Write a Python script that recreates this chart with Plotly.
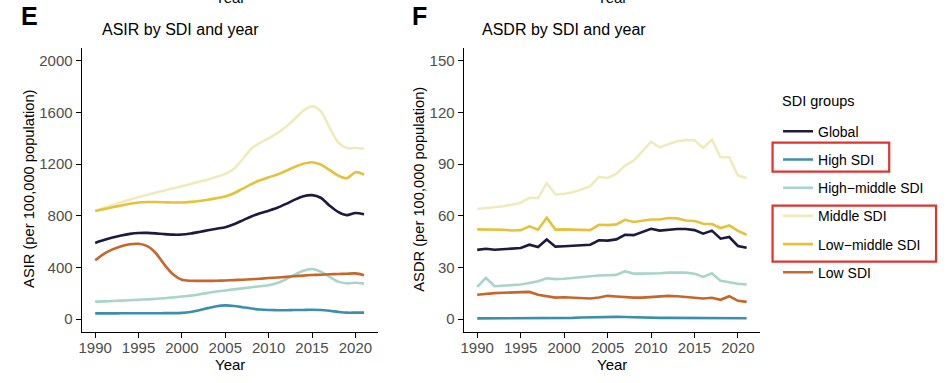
import plotly.graph_objects as go

W, H = 952, 383
FONT = "Liberation Sans, Arial, sans-serif"

years = list(range(1990, 2022))
groups = ["Global", "High SDI", "High\u2212middle SDI", "Middle SDI", "Low\u2212middle SDI", "Low SDI"]
colors = ["#1c1a40", "#3b8fad", "#a7d5c8", "#f0ebbd", "#e6c23c", "#c8652b"]

asir_global = [590, 612, 632, 648, 660, 667, 668, 664, 658, 654,
               655, 663, 675, 688, 700, 712, 735, 765, 795, 820,
               840, 862, 892, 925, 952, 960, 940, 880, 830, 805, 822, 812]
asir_high = [44, 44, 44, 45, 45, 45, 45, 45, 46, 46,
             48, 55, 68, 85, 100, 106, 102, 92, 82, 74,
             70, 69, 69, 70, 71, 72, 70, 64, 56, 50, 50, 50]
asir_highmid = [135, 137, 140, 143, 146, 150, 153, 157, 162, 168,
                175, 182, 192, 203, 214, 222, 230, 238, 246, 254,
                262, 280, 308, 345, 375, 388, 368, 328, 290, 278, 282, 275]
asir_mid = [840, 862, 883, 905, 925, 945, 962, 980, 997, 1013,
            1030, 1046, 1064, 1082, 1102, 1125, 1165, 1240, 1320, 1365,
            1400, 1440, 1490, 1550, 1615, 1648, 1612, 1485, 1370, 1326, 1325, 1320]
asir_lowmid = [838, 852, 866, 880, 893, 903, 907, 907, 905, 903,
               903, 908, 915, 925, 937, 950, 975, 1010, 1045, 1075,
               1098, 1120, 1148, 1178, 1203, 1215, 1197, 1156, 1112, 1091, 1138, 1120]
asir_low = [455, 505, 540, 565, 580, 583, 565, 510, 420, 345,
            305, 297, 296, 296, 297, 299, 302, 305, 309, 313,
            318, 322, 327, 332, 337, 341, 344, 347, 349, 351, 354, 340]

asdr_global = [40.2, 40.9, 40.3, 40.5, 40.7, 41.3, 43.2, 41.9, 46.3, 42.1,
               42.3, 42.5, 42.9, 43.2, 45.8, 45.6, 46.3, 49.0, 48.8, 50.6,
               52.5, 51.4, 51.9, 52.3, 52.3, 51.7, 49.6, 51.4, 46.7, 47.7, 42.5, 41.5]
asdr_high = [0.4, 0.4, 0.4, 0.4, 0.4, 0.4, 0.5, 0.5, 0.5, 0.5,
             0.6, 0.7, 0.9, 1.1, 1.3, 1.4, 1.3, 1.2, 1.0, 0.8,
             0.7, 0.7, 0.7, 0.7, 0.7, 0.7, 0.7, 0.6, 0.5, 0.5, 0.5, 0.5]
asdr_highmid = [18.7, 23.9, 19.1, 19.3, 19.5, 20.1, 21.0, 22.0, 23.7, 23.2,
                23.4, 23.9, 24.5, 25.1, 25.3, 25.5, 25.7, 27.8, 26.4, 26.4,
                26.4, 26.6, 27.0, 27.0, 27.0, 26.4, 24.5, 26.6, 22.2, 21.4, 20.5, 20.1]
asdr_mid = [64.0, 64.5, 64.7, 65.6, 66.4, 67.6, 70.5, 70.3, 79.0, 72.4,
            72.8, 73.7, 75.3, 77.2, 82.6, 82.0, 84.4, 89.2, 92.0, 97.3,
            102.9, 99.8, 101.4, 103.3, 104.0, 103.9, 99.4, 104.2, 94.0, 94.0, 83.4, 82.0]
asdr_lowmid = [52.1, 52.1, 52.0, 51.9, 51.5, 51.7, 53.9, 51.9, 58.9, 52.0,
               52.1, 52.1, 51.9, 51.7, 54.8, 54.6, 55.0, 57.7, 56.4, 57.3,
               57.9, 57.9, 58.7, 58.5, 57.3, 57.0, 55.4, 55.2, 52.9, 54.4, 51.2, 49.0]
asdr_low = [14.1, 14.7, 15.1, 15.3, 15.4, 15.4, 15.8, 14.1, 13.3, 12.5,
            12.7, 12.5, 12.2, 12.0, 12.5, 13.5, 13.1, 12.7, 12.5, 12.5,
            12.9, 13.1, 13.5, 13.3, 12.7, 12.4, 12.0, 12.4, 11.2, 13.3, 10.6, 10.0]

asir = [asir_global, asir_high, asir_highmid, asir_mid, asir_lowmid, asir_low]
asdr = [asdr_global, asdr_high, asdr_highmid, asdr_mid, asdr_lowmid, asdr_low]

x_ticks = [1990, 1995, 2000, 2005, 2010, 2015, 2020]
asir_ticks = [0, 400, 800, 1200, 1600, 2000]
asdr_ticks = [0, 30, 60, 90, 120, 150]


def px(x):
    return x / W


def py(y):
    return 1 - y / H


fig = go.Figure()
for i, g in enumerate(groups):
    fig.add_trace(go.Scatter(
        x=years, y=asir[i], mode="lines", name=g, legendgroup=g, showlegend=False,
        line=dict(color=colors[i], width=2.6, shape="spline", smoothing=0.8),
        xaxis="x", yaxis="y"))
for i, g in enumerate(groups):
    fig.add_trace(go.Scatter(
        x=years, y=asdr[i], mode="lines", name=g, legendgroup=g, showlegend=True,
        line=dict(color=colors[i], width=2.6),
        xaxis="x2", yaxis="y2"))

ax_common = dict(showline=True, linecolor="black", linewidth=1.3, ticks="outside",
                 ticklen=5, tickwidth=1.1, tickcolor="black", showgrid=False, zeroline=False,
                 tickfont=dict(family=FONT, size=15, color="#4d4d4d"), fixedrange=True)

fig.update_layout(
    width=W, height=H, margin=dict(l=0, r=0, t=0, b=0),
    paper_bgcolor="white", plot_bgcolor="white",
    font=dict(family=FONT, color="black"),
    xaxis=dict(domain=[px(79), px(375.7)], range=[1988.45, 2022.55], tickvals=x_ticks,
               anchor="y", ticklabelstandoff=-3, **ax_common),
    yaxis=dict(domain=[py(332), py(48)], range=[-100, 2100], tickvals=asir_ticks,
               anchor="x", **ax_common),
    xaxis2=dict(domain=[px(462.2), px(759.5)], range=[1988.45, 2022.55], tickvals=x_ticks,
                anchor="y2", ticklabelstandoff=-3, **ax_common),
    yaxis2=dict(domain=[py(332), py(48)], range=[-7.5, 157.5], tickvals=asdr_ticks,
                anchor="x2", **ax_common),
    legend=dict(x=px(777.5), y=py(115.7), xanchor="left", yanchor="top",
                traceorder="grouped", tracegroupgap=7,
                font=dict(family=FONT, size=14, color="black"),
                bgcolor="rgba(0,0,0,0)"),
)

annos = [
    dict(text="<b>E</b>", x=px(27), y=py(16), size=25),
    dict(text="<b>F</b>", x=px(418), y=py(16), size=25),
    dict(text="ASIR by SDI and year", x=px(178.5), y=py(30), size=16),
    dict(text="ASDR by SDI and year", x=px(563), y=py(30), size=16),
    dict(text="Year", x=px(228), y=py(364.5), size=15),
    dict(text="Year", x=px(611), y=py(364.5), size=15),
    dict(text="Year", x=px(228), y=py(-3), size=15),
    dict(text="Year", x=px(611), y=py(-3), size=15),
]
for a in annos:
    fig.add_annotation(text=a["text"], x=a["x"], y=a["y"], xref="paper", yref="paper",
                       showarrow=False, xanchor="center", yanchor="middle",
                       font=dict(family=FONT, size=a["size"], color="black"))
fig.add_annotation(text="SDI groups", x=px(779), y=py(101), xref="paper", yref="paper",
                   showarrow=False, xanchor="left", yanchor="middle",
                   font=dict(family=FONT, size=14.5, color="black"))
fig.add_annotation(text="ASIR (per 100,000 population)", x=px(26), y=py(189), xref="paper",
                   yref="paper", showarrow=False, textangle=-90, xanchor="center", yanchor="middle",
                   font=dict(family=FONT, size=14.7, color="black"))
fig.add_annotation(text="ASDR (per 100,000 population)", x=px(417), y=py(189), xref="paper",
                   yref="paper", showarrow=False, textangle=-90, xanchor="center", yanchor="middle",
                   font=dict(family=FONT, size=14.7, color="black"))

for (x0, x1, y0, y1) in [(772, 889, 142.7, 171.7), (772, 936, 205.7, 261.7)]:
    fig.add_shape(type="rect", xref="paper", yref="paper",
                  x0=px(x0), x1=px(x1), y0=py(y1), y1=py(y0),
                  line=dict(color="#e0322f", width=2.2))

fig.write_html("out.html", config={"displayModeBar": False},
               post_script="document.body.style.margin='0';document.body.style.overflow='hidden';")
